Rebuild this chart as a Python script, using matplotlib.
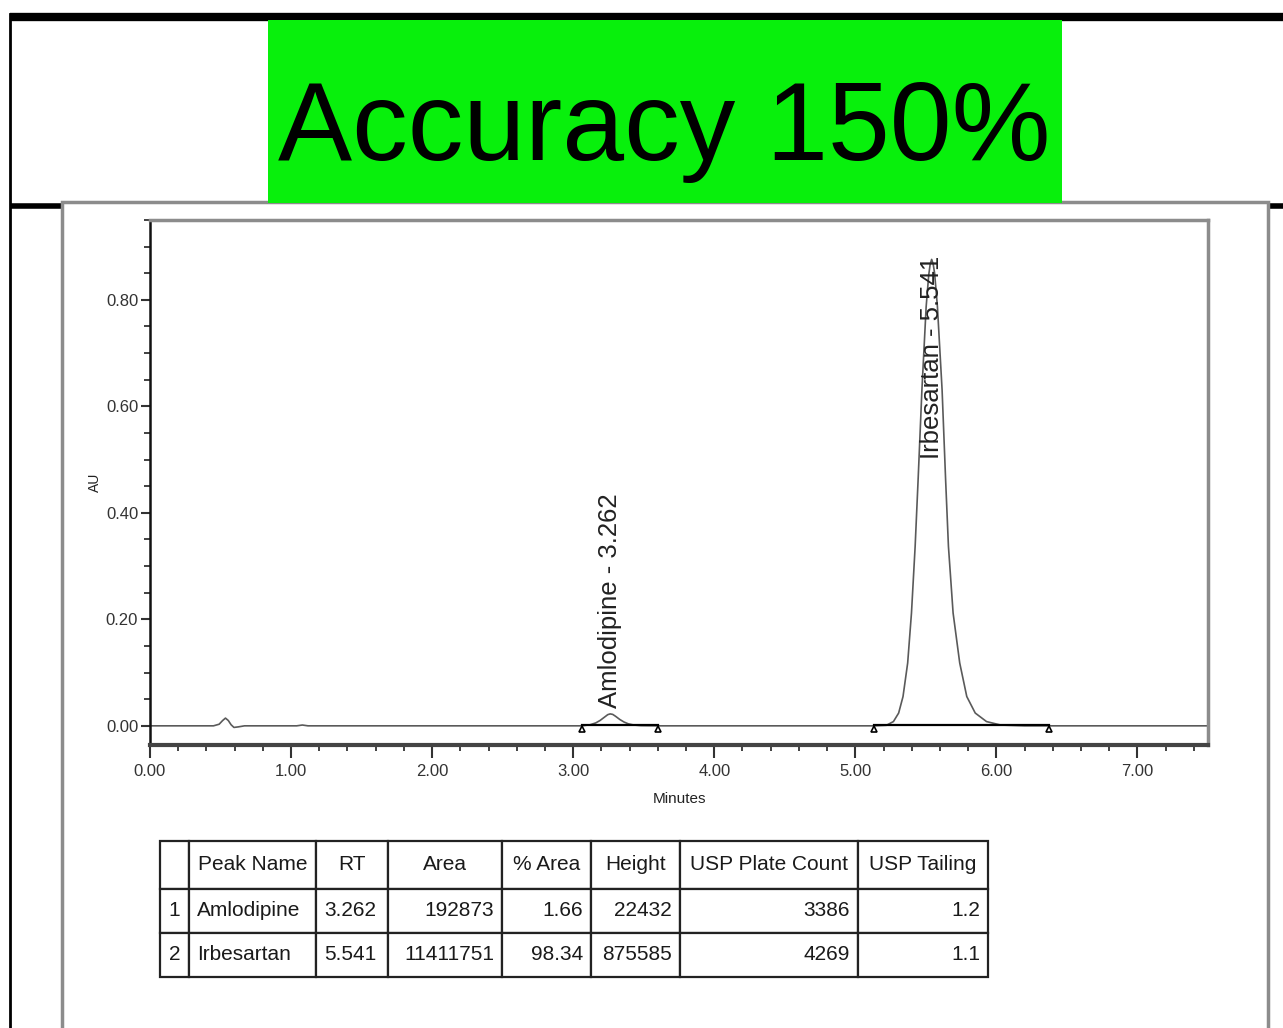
import matplotlib
matplotlib.use("Agg")
import matplotlib.pyplot as plt
from matplotlib.patches import Rectangle
from matplotlib.ticker import MultipleLocator, FormatStrFormatter

plt.rcParams["font.family"] = ["Liberation Sans", "DejaVu Sans"]

# chromatogram trace (minutes, AU)
trace_time = [0.00, 0.45, 0.49, 0.515, 0.535, 0.555, 0.575, 0.595, 0.625, 0.67,
              1.04, 1.08, 1.12,
              3.06, 3.12, 3.16, 3.19, 3.22, 3.245, 3.262, 3.28, 3.30, 3.33, 3.36,
              3.39, 3.43, 3.48, 3.60,
              5.13, 5.22, 5.27, 5.307, 5.338, 5.371, 5.398, 5.424, 5.445, 5.472,
              5.502, 5.520, 5.530, 5.541, 5.552, 5.562, 5.582, 5.615, 5.640,
              5.660, 5.693, 5.740, 5.790, 5.850, 5.930, 6.03, 6.20, 7.50]
trace_au = [0.000, 0.000, 0.003, 0.010, 0.0145, 0.010, 0.002, -0.003, -0.002, 0.000,
            0.000, 0.0015, 0.000,
            0.000, 0.002, 0.0055, 0.010, 0.016, 0.0210, 0.0224, 0.0215, 0.018,
            0.012, 0.0072, 0.0038, 0.0015, 0.0004, 0.000,
            0.000, 0.001, 0.008, 0.024, 0.055, 0.118, 0.212, 0.337, 0.462, 0.631,
            0.787, 0.846, 0.866, 0.876, 0.867, 0.850, 0.787, 0.631, 0.462,
            0.337, 0.212, 0.118, 0.055, 0.024, 0.008, 0.0015, 0.000, 0.000]

peak_names = ["Amlodipine", "Irbesartan"]
peak_rt = [3.262, 5.541]
label_au = [0.034, 0.882]
base_start = [3.06, 5.13]
base_end = [3.60, 6.37]

col_labels = ["", "Peak Name", "RT", "Area", "% Area", "Height",
              "USP Plate Count", "USP Tailing"]
row_index = ["1", "2"]
rt_text = ["3.262", "5.541"]
area = ["192873", "11411751"]
pct_area = ["1.66", "98.34"]
height = ["22432", "875585"]
plate_count = ["3386", "4269"]
tailing = ["1.2", "1.1"]

W, H = 1283, 1028
fig = plt.figure(figsize=(W / 100, H / 100), dpi=100)

# page decorations in pixel coordinates
bg = fig.add_axes([0, 0, 1, 1], zorder=0)
bg.set_xlim(0, W)
bg.set_ylim(H, 0)
bg.axis("off")
bg.plot([10, W], [17, 17], color="black", lw=6, solid_capstyle="butt", zorder=0.5)
bg.plot([10, 10], [14, H], color="black", lw=2, zorder=0.5)
bg.plot([10, W], [206, 206], color="black", lw=4, solid_capstyle="butt", zorder=0.5)
bg.add_patch(Rectangle((62, 202), 1206, 840, facecolor="white",
                       edgecolor="#8c8c8c", lw=2.5, zorder=1))
bg.add_patch(Rectangle((268, 20), 794, 183, facecolor="#08f00c",
                       edgecolor="none", zorder=2))
bg.text(664, 160, "Accuracy 150%", fontsize=80, ha="center", va="baseline",
        color="black", zorder=3)

# chromatogram
ax = fig.add_axes([150 / W, 1 - 745 / H, 1058 / W, 525 / H], zorder=1)
ax.set_facecolor("white")
ax.plot(trace_time, trace_au, color="#5a5a5a", lw=1.2)
for i in range(len(peak_names)):
    ax.plot([base_start[i], base_end[i]], [0.002, 0.002], color="black", lw=1.6)
    ax.plot([base_start[i], base_end[i]], [-0.006, -0.006], ls="none",
            marker="^", ms=5, mfc="white", mec="black", mew=1.2)
    ax.text(peak_rt[i], label_au[i], f"{peak_names[i]} - {peak_rt[i]:.3f}",
            rotation=90, ha="center", va="bottom" if i == 0 else "top",
            fontsize=18.5, color="#222222")

ax.set_xlim(0, 7.5)
ax.set_ylim(-0.036, 0.95)
ax.xaxis.set_major_locator(MultipleLocator(1.0))
ax.xaxis.set_minor_locator(MultipleLocator(0.2))
ax.yaxis.set_major_locator(MultipleLocator(0.2))
ax.yaxis.set_minor_locator(MultipleLocator(0.05))
ax.xaxis.set_major_formatter(FormatStrFormatter("%.2f"))
ax.yaxis.set_major_formatter(FormatStrFormatter("%.2f"))
ax.tick_params(axis="x", which="major", length=9, width=1.5, pad=5,
               labelsize=12, colors="#333333")
ax.tick_params(axis="x", which="minor", length=4.5, width=1.3, colors="#333333")
ax.tick_params(axis="y", which="major", length=6.5, width=1.5, pad=2,
               labelsize=12, colors="#333333")
ax.tick_params(axis="y", which="minor", length=4, width=1.3, colors="#333333")
ax.spines["left"].set_color("#111111")
ax.spines["left"].set_linewidth(1.8)
ax.spines["bottom"].set_color("#444444")
ax.spines["bottom"].set_linewidth(3)
for side in ("top", "right"):
    ax.spines[side].set_color("#8c8c8c")
    ax.spines[side].set_linewidth(2.5)
ax.set_xlabel("Minutes", fontsize=11, labelpad=9, color="#222222")
ax.set_ylabel("AU", fontsize=10, labelpad=3, color="#222222")

# peak table
tax = fig.add_axes([160 / W, 1 - 977 / H, 828 / W, 136 / H], zorder=1)
tax.axis("off")
rows = [[row_index[i], peak_names[i], rt_text[i], area[i], pct_area[i],
         height[i], plate_count[i], tailing[i]] for i in range(2)]
col_px = [29, 127, 72, 114, 89, 89, 178, 130]
tbl = tax.table(cellText=rows, colLabels=col_labels, cellLoc="right",
                colLoc="center", colWidths=[c / 828 for c in col_px],
                bbox=[0, 0, 1, 1])
tbl.auto_set_font_size(False)
tbl.set_fontsize(15)
for (r, c), cell in tbl.get_celld().items():
    cell.set_edgecolor("#222222")
    cell.set_linewidth(1.6)
    cell.set_height((48 if r == 0 else 44) / 136)
    cell.PAD = 8 / col_px[c]
    cell.get_text().set_color("#1a1a1a")
    if r > 0:
        if c == 0:
            cell._loc = "center"
            cell.get_text().set_ha("center")
        elif c in (1, 2):
            cell._loc = "left"
            cell.get_text().set_ha("left")

fig.savefig("out.png", dpi=100)
